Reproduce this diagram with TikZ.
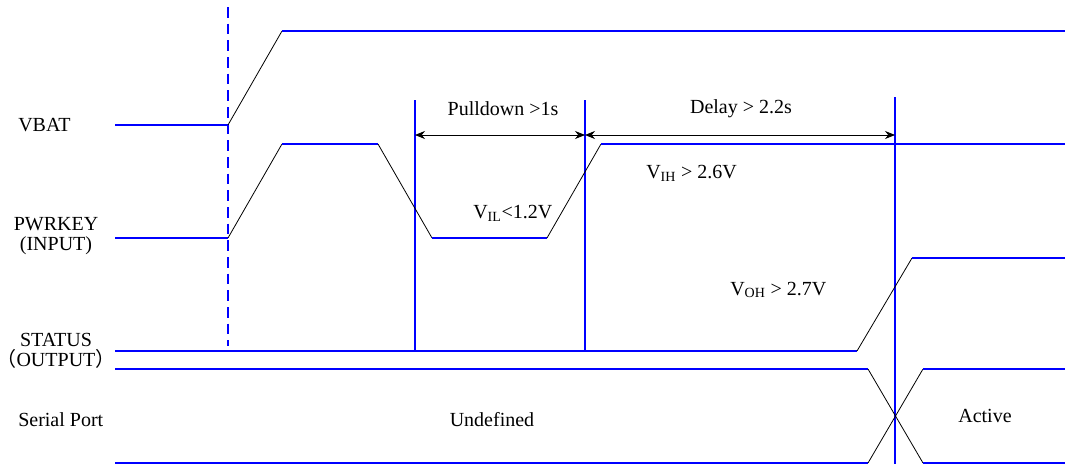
\documentclass[tikz,border=0pt]{standalone}
\usepackage{fontspec}
\setmainfont{Liberation Serif}
\newfontfamily\cjk{Noto Sans CJK SC}
\usetikzlibrary{arrows.meta}
\begin{document}
\begin{tikzpicture}[x=0.75pt,y=-0.75pt,
  sig/.style={blue, line width=0.8pt},
  ramp/.style={black, line width=0.6pt},
  vline/.style={blue, line width=0.8pt},
  lbl/.style={font=\fontsize{15}{14.5}\selectfont, inner sep=0pt},
  dimarrow/.style={{Stealth[length=7.5pt,width=6pt]}-{Stealth[length=7.5pt,width=6pt]}, line width=0.6pt},
  startmark/.style={blue, line width=1.6pt, dash pattern=on 8pt off 4.5pt}
]
\useasboundingbox (0,0) rectangle (1065,464);

% ---------- key coordinates ----------
\coordinate (pdA) at (415,135);
\coordinate (pdB) at (585,135);
\coordinate (dlB) at (895,135);

% ---------- power-on marker ----------
\draw[startmark] (228,7) -- (228,346);

% ---------- vertical timing lines ----------
\draw[vline] (415,100) -- (415,351);
\draw[vline] (585,100) -- (585,351);
\draw[vline] (895,97) -- (895,464);

% ---------- VBAT ----------
\draw[sig] (115,125) -- (228,125);
\draw[ramp] (228,125) -- (282,31);
\draw[sig] (282,31) -- (1065,31);

% ---------- PWRKEY ----------
\draw[sig] (115,238) -- (228,238);
\draw[ramp] (228,238) -- (282,144);
\draw[sig] (282,144) -- (378,144);
\draw[ramp] (378,144) -- (432,238);
\draw[sig] (432,238) -- (547,238);
\draw[ramp] (547,238) -- (601,144);
\draw[sig] (601,144) -- (1065,144);

% ---------- STATUS ----------
\draw[sig] (115,351) -- (857,351);
\draw[ramp] (857,351) -- (912,258);
\draw[sig] (912,258) -- (1065,258);

% ---------- Serial port ----------
\draw[sig] (115,369) -- (868,369);
\draw[sig] (115,463) -- (868,463);
\draw[ramp] (868,369) -- (923,463);
\draw[ramp] (868,463) -- (923,369);
\draw[sig] (923,369) -- (1065,369);
\draw[sig] (923,463) -- (1065,463);

% ---------- dimension arrows ----------
\draw[dimarrow] (pdA) -- (pdB);
\draw[dimarrow] (pdB) -- (dlB);

% ---------- labels ----------
\node[lbl, anchor=west] (vbat) at (18,125) {VBAT};
\node[lbl, align=center] (pwr) at (56,236) {PWRKEY\\(INPUT)};
\node[lbl, align=center] (st) at (56,351) {STATUS\\{\cjk （}OUTPUT{\cjk ）}};
\node[lbl, anchor=west] (ser) at (18,420) {Serial Port};
\node[lbl] (undef) at (492,420) {Undefined};
\node[lbl] (act) at (985,416) {Active};
\node[lbl] (pull) at (503,109) {Pulldown {>}1s};
\node[lbl] (delay) at (741,109) {Delay {>} 2.2s};
\node[lbl, anchor=west] (vih) at (646,173) {V\textsubscript{IH} {>} 2.6V};
\node[lbl, anchor=west] (vil) at (473,213) {V\textsubscript{IL}{<}1.2V};
\node[lbl, anchor=west] (voh) at (730,290) {V\textsubscript{OH} {>} 2.7V};
\end{tikzpicture}
\end{document}
